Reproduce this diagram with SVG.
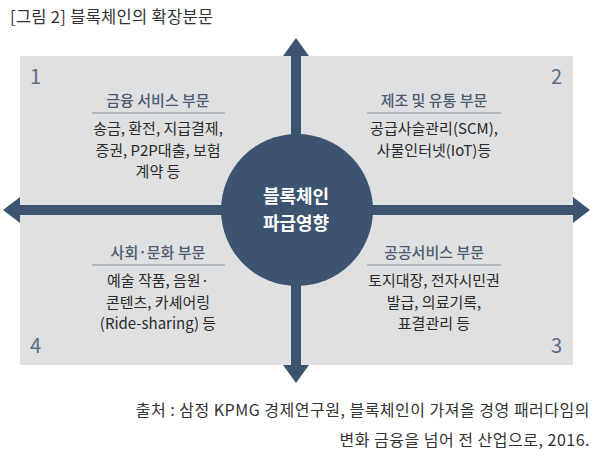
<svg xmlns="http://www.w3.org/2000/svg" width="600" height="459" viewBox="0 0 600 459">
<style>
text{font-family:"Noto Sans CJK KR","Noto Sans",sans-serif;}
.cap{font-size:16.5px;fill:#333;letter-spacing:0.3px;}
.ttl{font-size:15px;fill:#4b5b72;text-anchor:middle;font-weight:500;}
.body{font-size:15px;fill:#2a2a2a;text-anchor:middle;}
.num{font-size:20px;fill:#5b6b82;}
.rule{stroke:#8a8d92;stroke-width:1.2;}
.arrow{fill:#3d5470;}
.src{font-size:16px;fill:#333;text-anchor:end;letter-spacing:0.5px;}
.ctr{font-size:18px;font-weight:700;fill:#ffffff;text-anchor:middle;}
</style>
<rect x="0" y="0" width="600" height="459" fill="#ffffff"/>
<text class="cap" x="10" y="23">[그림 2] 블록체인의 확장분문</text>
<rect id="panel" x="20" y="56" width="553" height="309" fill="#dfe0e1"/>
<g id="connectors">
<path class="arrow" d="M291,56 L283,56 L296,38 L309,56 L301,56 L301,365 L309,365 L296,383 L283,365 L291,365 Z"/>
<path class="arrow" d="M20,205 L20,197 L3,210 L20,223 L20,215 L573,215 L573,223 L590,210 L573,197 L573,205 Z"/>
</g>
<g id="center">
<circle cx="297" cy="210" r="76" fill="#3d5470"/>
<text class="ctr" x="296" y="203">블록체인</text>
<text class="ctr" x="296" y="230">파급영향</text>
</g>
<g id="q1">
<text class="num" x="30" y="84">1</text>
<text class="ttl" x="158" y="106">금융 서비스 부문</text>
<line class="rule" x1="92" y1="113" x2="225" y2="113"/>
<text class="body" x="158" y="134">송금, 환전, 지급결제,</text>
<text class="body" x="158" y="156">증권, P2P대출, 보험</text>
<text class="body" x="158" y="177">계약 등</text>
</g>
<g id="q2">
<text class="num" x="551" y="84">2</text>
<text class="ttl" x="434" y="106">제조 및 유통 부문</text>
<line class="rule" x1="367" y1="113" x2="501" y2="113"/>
<text class="body" x="434" y="134">공급사슬관리(SCM),</text>
<text class="body" x="434" y="156">사물인터넷(IoT)등</text>
</g>
<g id="q4">
<text class="num" x="30" y="353">4</text>
<text class="ttl" x="158" y="258">사회·문화 부문</text>
<line class="rule" x1="92" y1="265" x2="225" y2="265"/>
<text class="body" x="158" y="286">예술 작품, 음원·</text>
<text class="body" x="158" y="308">콘텐츠, 카셰어링</text>
<text class="body" x="158" y="329">(Ride-sharing) 등</text>
</g>
<g id="q3">
<text class="num" x="551" y="353">3</text>
<text class="ttl" x="434" y="258">공공서비스 부문</text>
<line class="rule" x1="367" y1="265" x2="501" y2="265"/>
<text class="body" x="434" y="286">토지대장, 전자시민권</text>
<text class="body" x="434" y="308">발급, 의료기록,</text>
<text class="body" x="434" y="329">표결관리 등</text>
</g>
<text class="src" x="590" y="416">출처 : 삼정 KPMG 경제연구원, 블록체인이 가져올 경영 패러다임의</text>
<text class="src" x="590" y="446">변화 금융을 넘어 전 산업으로, 2016.</text>
</svg>
